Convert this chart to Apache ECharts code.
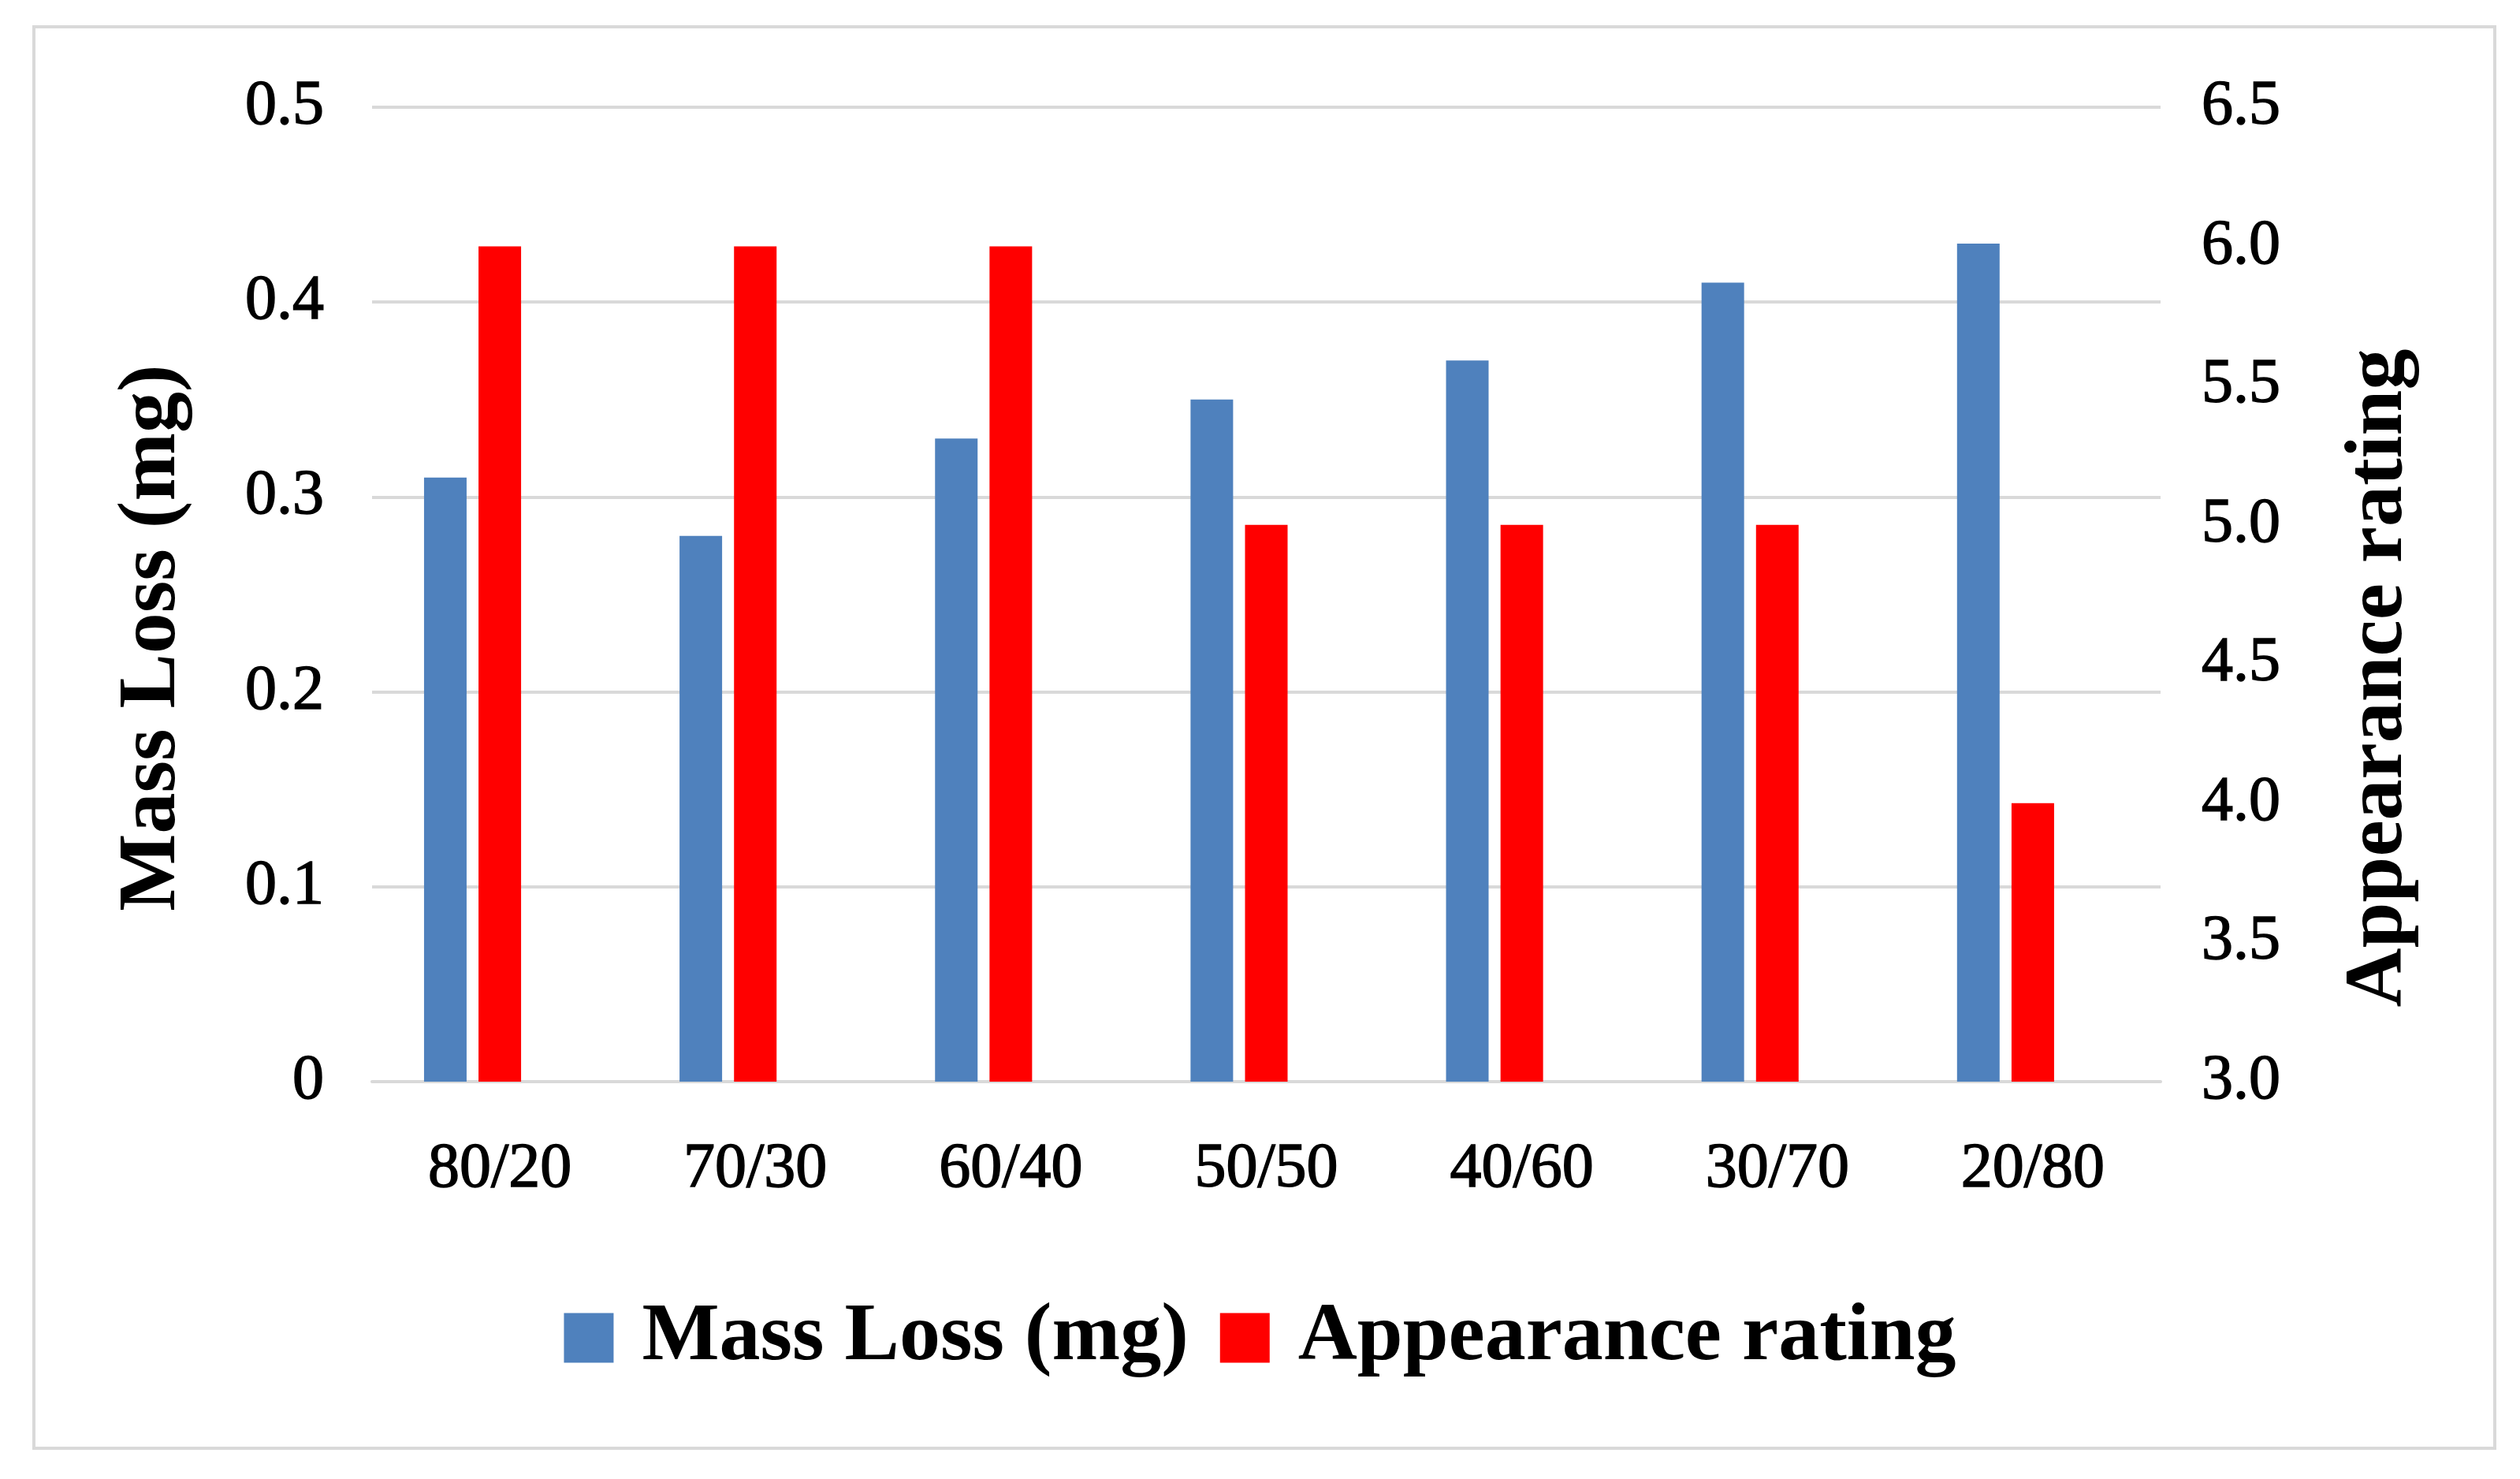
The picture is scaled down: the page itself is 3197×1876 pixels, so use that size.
<!DOCTYPE html>
<html>
<head>
<meta charset="utf-8">
<script src="https://cdn.jsdelivr.net/npm/echarts@6/dist/echarts.min.js"></script>
<style>
  html, body { margin: 0; padding: 0; background: #ffffff; }
  #chart { width: 3197px; height: 1876px; }
</style>
</head>
<body>
<div id="chart"></div>
<script>
const categories = ['80/20', '70/30', '60/40', '50/50', '40/60', '30/70', '20/80'];
const massLoss = [0.31, 0.28, 0.33, 0.35, 0.37, 0.41, 0.43];
const appearanceRating = [6, 6, 6, 5, 5, 5, 4];
const seriesNames = ['Mass Loss (mg)', 'Appearance rating'];

const FONT = '"Liberation Serif", "Times New Roman", serif';
const tickText = { fontFamily: FONT, fontSize: 80, color: '#000', textBorderColor: '#000', textBorderWidth: 1.5 };
const chart = echarts.init(document.getElementById('chart'));

chart.setOption({
  backgroundColor: '#ffffff',
  animation: false,
  graphic: [{
    type: 'rect',
    shape: { x: 43, y: 34, width: 3122, height: 1803 },
    style: { fill: 'none', stroke: '#d9d9d9', lineWidth: 4 },
    z: -1
  }],
  legend: {
    data: seriesNames,
    left: 'center',
    top: 1640,
    icon: 'rect',
    itemWidth: 63,
    itemHeight: 63,
    itemGap: 40,
    textStyle: { fontFamily: FONT, fontSize: 104, fontWeight: 'bold', color: '#000', padding: [0, 0, 0, 31] }
  },
  grid: { left: 472, right: 456, top: 136, bottom: 504, containLabel: false },
  xAxis: {
    type: 'category',
    data: categories,
    axisTick: { show: false },
    axisLine: { show: true, lineStyle: { color: '#d9d9d9', width: 4 } },
    axisLabel: Object.assign({ margin: 72 }, tickText)
  },
  yAxis: [{
    type: 'value',
    min: 0, max: 0.5, interval: 0.1,
    name: 'Mass Loss (mg)',
    nameLocation: 'middle',
    nameRotate: 90,
    nameGap: 226,
    nameTextStyle: { fontFamily: FONT, fontSize: 104, fontWeight: 'bold', color: '#000', padding: [0, 110, 0, 0] },
    axisLine: { show: false },
    axisTick: { show: false },
    splitLine: { show: true, lineStyle: { color: '#d9d9d9', width: 4 } },
    axisLabel: Object.assign({ margin: 61 }, tickText)
  }, {
    type: 'value',
    position: 'right',
    min: 3, max: 6.5, interval: 0.5,
    name: 'Appearance rating',
    nameLocation: 'middle',
    nameRotate: 90,
    nameGap: 226,
    nameTextStyle: { fontFamily: FONT, fontSize: 104, fontWeight: 'bold', color: '#000', padding: [0, 212, 0, 0] },
    axisLine: { show: false },
    axisTick: { show: false },
    splitLine: { show: false },
    axisLabel: Object.assign({ margin: 52, formatter: v => v.toFixed(1) }, tickText)
  }],
  series: [{
    name: seriesNames[0],
    type: 'bar',
    yAxisIndex: 0,
    data: massLoss,
    barWidth: 54,
    barGap: '28%',
    itemStyle: { color: '#4F81BD' }
  }, {
    name: seriesNames[1],
    type: 'bar',
    yAxisIndex: 1,
    data: appearanceRating,
    barWidth: 54,
    barGap: '28%',
    itemStyle: { color: '#FF0000' }
  }, {
    name: 'spacer',
    type: 'bar',
    yAxisIndex: 0,
    data: [],
    barWidth: 54,
    barGap: '28%',
    silent: true
  }]
});
</script>
</body>
</html>
